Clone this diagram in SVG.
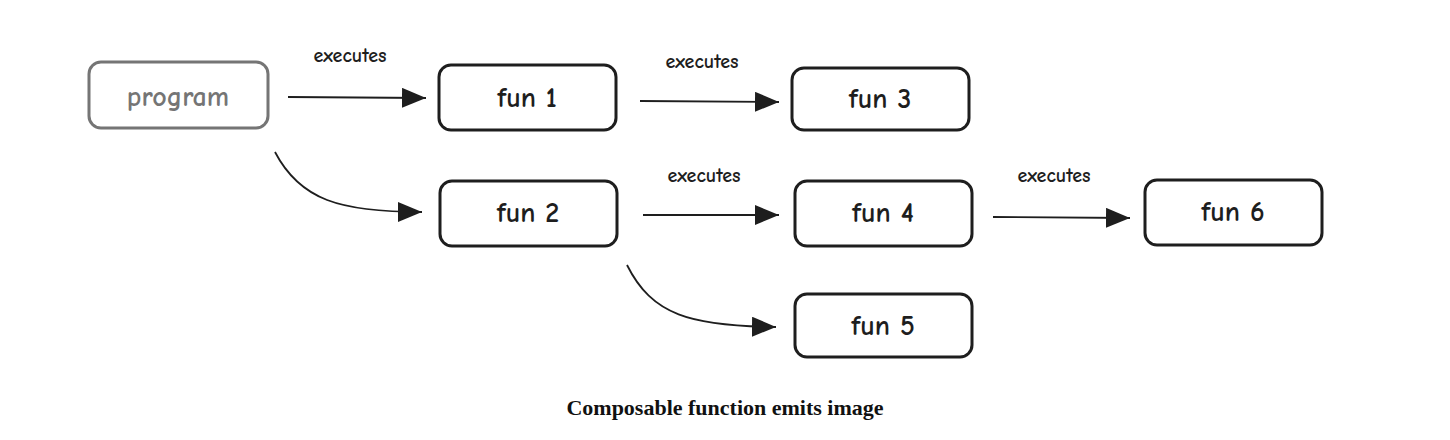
<svg xmlns="http://www.w3.org/2000/svg" width="1450" height="440" viewBox="0 0 1450 440">
<style>
.box{fill:#fff;stroke:#1e1e1e;stroke-width:3}
.grey{stroke:#757575}
.t{font-family:"Comic Neue","DejaVu Sans","Liberation Sans",sans-serif;font-size:28px;font-weight:bold;fill:#1e1e1e;text-anchor:middle;dominant-baseline:central}
.tg{fill:#757575}
.lbl{font-family:"Comic Neue","DejaVu Sans","Liberation Sans",sans-serif;font-size:20px;font-weight:bold;fill:#1e1e1e;text-anchor:middle}
.ed{fill:none;stroke:#1e1e1e;stroke-width:1.8}
.cap{font-family:"Liberation Serif",serif;font-weight:bold;font-size:22px;fill:#111;text-anchor:middle}
</style>
<defs>
<marker id="ah2" viewBox="0 0 24 20" refX="24" refY="10" markerWidth="24" markerHeight="20" markerUnits="userSpaceOnUse" orient="auto">
<path d="M0,0 L24,10 L0,20 z" fill="#1e1e1e"/>
</marker>
</defs>
<g id="connectors">
<path class="ed" d="M288,97 L426,98" marker-end="url(#ah2)"/>
<text class="lbl" x="350" y="62">executes</text>
<path class="ed" d="M640,101 L779,102" marker-end="url(#ah2)"/>
<text class="lbl" x="702" y="68">executes</text>
<path class="ed" d="M275,152 C300,200 340,212 422,212" marker-end="url(#ah2)"/>
<path class="ed" d="M643,215 L779,215" marker-end="url(#ah2)"/>
<text class="lbl" x="704" y="182">executes</text>
<path class="ed" d="M993,217 L1130,218" marker-end="url(#ah2)"/>
<text class="lbl" x="1054" y="182">executes</text>
<path class="ed" d="M627,265 C652,315 690,326 776,327" marker-end="url(#ah2)"/>
</g>
<g id="program">
<rect class="box grey" x="89" y="62" width="179" height="66" rx="12"/>
<text class="t tg" x="178" y="97">program</text>
</g>
<g id="fun1">
<rect class="box" x="439" y="65" width="177" height="65" rx="12"/>
<text class="t" x="527" y="98">fun 1</text>
</g>
<g id="fun3">
<rect class="box" x="792" y="68" width="177" height="62" rx="12"/>
<text class="t" x="880" y="99">fun 3</text>
</g>
<g id="fun2">
<rect class="box" x="440" y="181" width="177" height="65" rx="12"/>
<text class="t" x="528" y="213">fun 2</text>
</g>
<g id="fun4">
<rect class="box" x="795" y="181" width="177" height="65" rx="12"/>
<text class="t" x="883" y="213">fun 4</text>
</g>
<g id="fun6">
<rect class="box" x="1145" y="180" width="177" height="65" rx="12"/>
<text class="t" x="1233" y="212">fun 6</text>
</g>
<g id="fun5">
<rect class="box" x="795" y="294" width="177" height="63" rx="12"/>
<text class="t" x="883" y="326">fun 5</text>
</g>
<text class="cap" x="725" y="415">Composable function emits image</text>
</svg>
